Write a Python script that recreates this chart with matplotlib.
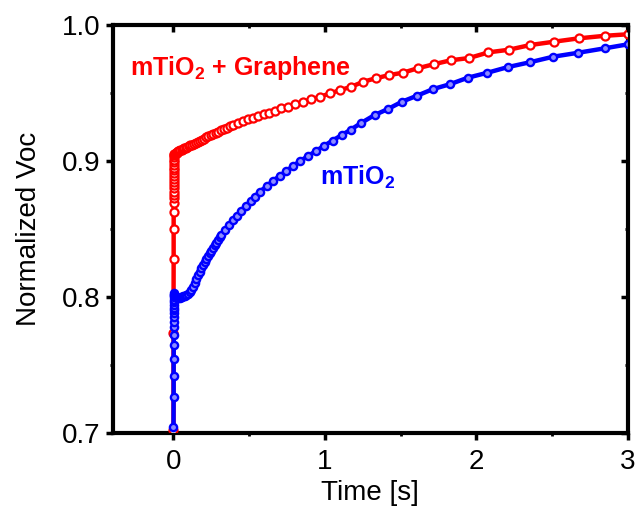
import matplotlib
matplotlib.use("Agg")
import matplotlib.pyplot as plt
from matplotlib.ticker import MultipleLocator

plt.rcParams['font.family'] = ['Liberation Sans', 'DejaVu Sans']
plt.rcParams['mathtext.default'] = 'regular'

# mTiO2 + Graphene : normalized Voc vs time
t_graphene = [0.000, 0.000, 0.001, 0.001, 0.001, 0.002, 0.002, 0.002, 0.002, 0.003,
              0.003, 0.003, 0.003, 0.003, 0.004, 0.004, 0.004, 0.004, 0.004, 0.004,
              0.004, 0.005,
              0.006, 0.010, 0.015, 0.020, 0.026, 0.032, 0.039, 0.046, 0.054, 0.062,
              0.071, 0.080, 0.090, 0.100, 0.111, 0.122, 0.134, 0.146, 0.159, 0.172,
              0.186, 0.200, 0.215, 0.230, 0.246, 0.262, 0.279, 0.296, 0.314, 0.332,
              0.351, 0.371, 0.392, 0.425, 0.458, 0.491, 0.524, 0.557, 0.595, 0.630,
              0.668, 0.712, 0.756, 0.805, 0.855, 0.910, 0.970, 1.036, 1.102, 1.174,
              1.253, 1.335, 1.424, 1.514, 1.613, 1.717, 1.832, 1.951, 2.080, 2.213,
              2.356, 2.510, 2.675, 2.850, 3.000]
v_graphene = [0.702, 0.7735, 0.8277, 0.8500, 0.8623, 0.8693, 0.8726, 0.8750, 0.8775, 0.8799,
              0.8824, 0.8848, 0.8870, 0.8890, 0.8910, 0.8930, 0.8950, 0.8970, 0.8990, 0.9010,
              0.9030, 0.9044,
              0.9050, 0.9054, 0.9058, 0.9062, 0.9066, 0.9070, 0.9074, 0.9078, 0.9082, 0.9087,
              0.9092, 0.9097, 0.9103, 0.9109, 0.9115, 0.9121, 0.9128, 0.9135, 0.9142, 0.9149,
              0.9157, 0.9165, 0.9174, 0.9183, 0.9192, 0.9200, 0.9208, 0.9216, 0.9225, 0.9234,
              0.9244, 0.9254, 0.9266, 0.9280, 0.9294, 0.9307, 0.9318, 0.9331, 0.9343, 0.9355,
              0.9368, 0.9386, 0.9399, 0.9417, 0.9432, 0.9454, 0.9473, 0.9498, 0.9522, 0.9546,
              0.9583, 0.9608, 0.9632, 0.9649, 0.9682, 0.9711, 0.9741, 0.9757, 0.9799, 0.9818,
              0.9853, 0.9877, 0.9902, 0.9921, 0.9932]

# bare mTiO2
t_bare = [0.000, 0.001, 0.001, 0.001, 0.002, 0.002, 0.002, 0.002, 0.002, 0.003,
          0.003, 0.003, 0.003, 0.003, 0.003, 0.004, 0.004, 0.004,
          0.006, 0.012, 0.018, 0.025, 0.032, 0.040, 0.048, 0.057, 0.066, 0.075,
          0.085, 0.095, 0.106, 0.117, 0.128, 0.139, 0.150, 0.161, 0.172, 0.183,
          0.194, 0.205, 0.216, 0.227, 0.238, 0.249, 0.260, 0.271, 0.282, 0.293,
          0.304, 0.315, 0.337, 0.364, 0.392, 0.421, 0.447, 0.476, 0.509, 0.535,
          0.568, 0.617, 0.656, 0.701, 0.745, 0.789, 0.837, 0.888, 0.940, 0.995,
          1.050, 1.110, 1.170, 1.240, 1.328, 1.416, 1.509, 1.608, 1.714, 1.824,
          1.945, 2.073, 2.209, 2.353, 2.507, 2.672, 2.849, 3.000]
v_bare = [0.7046, 0.7267, 0.7421, 0.7542, 0.7647, 0.7721, 0.7782, 0.7818, 0.7855, 0.7880,
          0.7900, 0.7920, 0.7940, 0.7960, 0.7980, 0.8000, 0.8015, 0.8027,
          0.8015, 0.8005, 0.7998, 0.7995, 0.7994, 0.7995, 0.7997, 0.8000, 0.8004, 0.8008,
          0.8014, 0.8022, 0.8035, 0.8054, 0.8076, 0.8105, 0.8135, 0.8160, 0.8186, 0.8210,
          0.8235, 0.8258, 0.8280, 0.8300, 0.8320, 0.8340, 0.8360, 0.8380, 0.8400, 0.8419,
          0.8437, 0.8456, 0.8493, 0.8529, 0.8566, 0.8598, 0.8635, 0.8669, 0.8703, 0.8736,
          0.8772, 0.8816, 0.8853, 0.8890, 0.8926, 0.8963, 0.9000, 0.9036, 0.9073, 0.9112,
          0.9150, 0.9190, 0.9230, 0.9280, 0.9338, 0.9382, 0.9436, 0.9480, 0.9529, 0.9564,
          0.9613, 0.9649, 0.9691, 0.9726, 0.9767, 0.9796, 0.9829, 0.9858]

fig = plt.figure(figsize=(6.38, 5.11), dpi=100)
ax = fig.add_axes([0.177, 0.153, 0.807, 0.798])

ax.plot(t_graphene, v_graphene, color='#ff0000', lw=3.2, marker='o', ms=5.8,
        mfc='white', mec='#ff0000', mew=1.6, zorder=3)
ax.plot(t_bare, v_bare, color='#0000ff', lw=3.2, marker='o', ms=5.2,
        mfc='#8c8cff', mec='#0000ff', mew=1.7, zorder=4)

ax.set_xlim(-0.4, 3.0)
ax.set_ylim(0.7, 1.0)
ax.xaxis.set_major_locator(MultipleLocator(1))
ax.xaxis.set_minor_locator(MultipleLocator(0.5))
ax.yaxis.set_major_locator(MultipleLocator(0.1))
ax.yaxis.set_minor_locator(MultipleLocator(0.05))
ax.yaxis.set_major_formatter(plt.FormatStrFormatter('%.1f'))

for s in ax.spines.values():
    s.set_linewidth(3)
ax.tick_params(which='major', direction='out', length=5, width=2.5,
               labelsize=20, pad=4)
ax.tick_params(axis='x', which='major', pad=7)
ax.tick_params(which='minor', direction='out', length=2.5, width=2)

# inward ticks on the top and right frame edges
top = ax.twiny()
top.set_xlim(ax.get_xlim())
top.xaxis.set_major_locator(MultipleLocator(1))
top.xaxis.set_minor_locator(MultipleLocator(0.5))
top.tick_params(which='major', direction='in', length=5, width=2.5, labeltop=False)
top.tick_params(which='minor', direction='in', length=2.5, width=2)
right = ax.twinx()
right.set_ylim(ax.get_ylim())
right.yaxis.set_major_locator(MultipleLocator(0.1))
right.yaxis.set_minor_locator(MultipleLocator(0.05))
right.tick_params(which='major', direction='in', length=5, width=2.5, labelright=False)
right.tick_params(which='minor', direction='in', length=2.5, width=2)

ax.set_xlabel('Time [s]', fontsize=20, labelpad=3)
ax.set_ylabel('Normalized Voc', fontsize=20, labelpad=14)

ax.text(-0.29, 0.9632, 'mTiO$_2$ + Graphene', color='#ff0000', fontsize=18,
        fontweight='bold', va='baseline')
ax.text(0.965, 0.8824, 'mTiO$_2$', color='#0000ff', fontsize=18,
        fontweight='bold', va='baseline')

fig.savefig('out.png', dpi=100)
